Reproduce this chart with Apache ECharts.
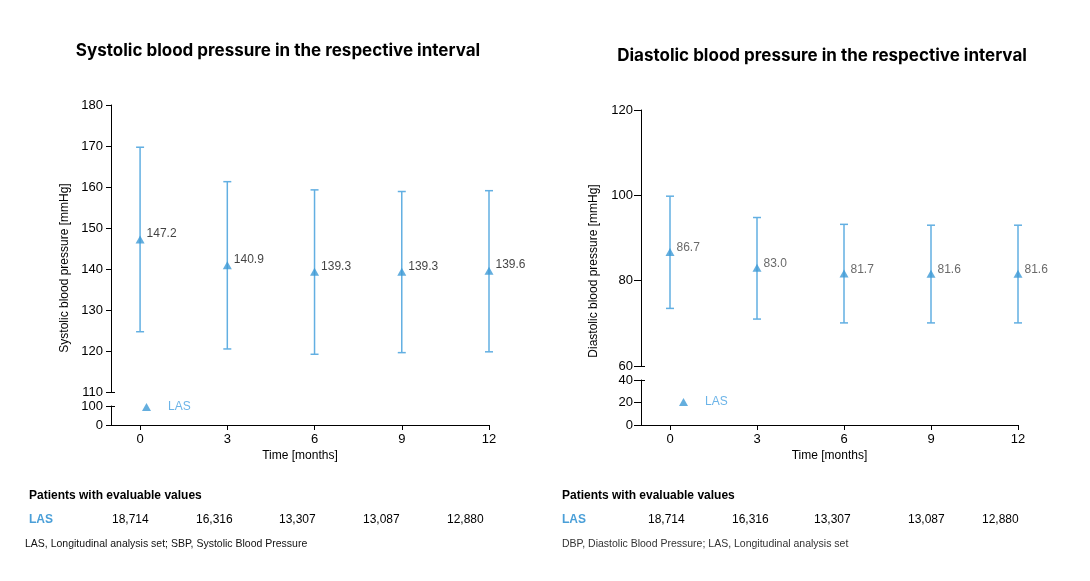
<!DOCTYPE html>
<html>
<head>
<meta charset="utf-8">
<script src="https://cdn.jsdelivr.net/npm/echarts@6/dist/echarts.min.js"></script>
<style>
html,body{margin:0;padding:0;background:#fff;}
#c{width:1090px;height:581px;}
</style>
</head>
<body>
<div id="c"></div>
<script>
// ---- data ----
const months = [0, 3, 6, 9, 12];
const sbpMean = [147.2, 140.9, 139.3, 139.3, 139.6];
const sbpLow  = [124.7, 120.5, 119.2, 119.6, 119.8];
const sbpHigh = [169.7, 161.3, 159.3, 158.9, 159.1];
const dbpMean = [86.7, 83.0, 81.7, 81.6, 81.6];
const dbpLow  = [73.5, 71.0, 70.1, 70.1, 70.1];
const dbpHigh = [99.8, 94.8, 93.2, 93.0, 93.0];
const nLAS = [18714, 16316, 13307, 13087, 12880];
const sbpTicksUpper = [110, 120, 130, 140, 150, 160, 170, 180];
const sbpTicksLower = [0, 100];
const dbpTicksUpper = [60, 80, 100, 120];
const dbpTicksLower = [0, 20, 40];
const seriesName = 'LAS';

// ---- styles ----
const FONT = 'Liberation Sans, Arial, sans-serif';
const TRI = '#3d9ad6';
const BAR = '#62afe2';
const LEG = '#6cb4e8';

const chart = echarts.init(document.getElementById('c'));

function errBar(xi, yi, mean, lo, hi) {
  return {
    type: 'custom', xAxisIndex: xi, yAxisIndex: yi, z: 2, silent: true,
    data: months.map((m, i) => [m, lo[i], hi[i]]),
    encode: {x: 0, y: [1, 2]},
    renderItem(params, api) {
      const x = api.value(0);
      const pHi = api.coord([x, api.value(2)]);
      const pLo = api.coord([x, api.value(1)]);
      const w = 4;
      const st = {stroke: BAR, lineWidth: 1.5};
      return {type: 'group', children: [
        {type: 'line', shape: {x1: pHi[0], y1: pHi[1], x2: pLo[0], y2: pLo[1]}, style: st},
        {type: 'line', shape: {x1: pHi[0] - w, y1: pHi[1], x2: pHi[0] + w, y2: pHi[1]}, style: st},
        {type: 'line', shape: {x1: pLo[0] - w, y1: pLo[1], x2: pLo[0] + w, y2: pLo[1]}, style: st}
      ]};
    }
  };
}
function points(xi, yi, mean, labColor, dy) {
  return {
    type: 'scatter', name: seriesName, xAxisIndex: xi, yAxisIndex: yi, z: 3,
    symbol: 'triangle', symbolSize: [9, 8],
    itemStyle: {color: TRI},
    data: months.map((m, i) => [m, mean[i]]),
    label: {show: true, position: 'right', distance: 2, offset: [0, dy],
      color: labColor, fontFamily: FONT, fontSize: 12,
      formatter: p => p.value[1].toFixed(1)}
  };
}
function xAx(grid, show) {
  return {
    type: 'value', gridIndex: grid, min: -1, max: 12, show: show,
    splitLine: {show: false},
    axisLine: {show: true, onZero: false, lineStyle: {color: '#000', width: 1}},
    axisTick: {show: true, length: 5, customValues: months, lineStyle: {color: '#000'}},
    axisLabel: {customValues: months, color: '#000', fontFamily: FONT, fontSize: 13, margin: 8},
    name: 'Time [months]', nameLocation: 'middle', nameGap: 25,
    nameTextStyle: {color: '#000', fontFamily: FONT, fontSize: 12}
  };
}
function yAx(grid, ticks, tickLen) {
  return {
    type: 'value', gridIndex: grid, position: 'left',
    min: ticks[0], max: ticks[ticks.length - 1],
    splitLine: {show: false},
    axisLine: {show: true, onZero: false, lineStyle: {color: '#000', width: 1}},
    axisTick: {show: true, length: tickLen, customValues: ticks, lineStyle: {color: '#000'}},
    axisLabel: {customValues: ticks, color: '#000', fontFamily: FONT, fontSize: 13, margin: 8}
  };
}
function brk(grid, ticks, at) {
  return {
    type: 'value', gridIndex: grid, position: 'left',
    min: ticks[0], max: ticks[ticks.length - 1],
    splitLine: {show: false},
    axisLine: {show: false, onZero: false},
    axisTick: {show: true, inside: true, length: 4, customValues: [at], lineStyle: {color: '#000'}},
    axisLabel: {show: false}
  };
}
function txt(x, y, text, opt) {
  return Object.assign({type: 'text', x: x, y: y, silent: true,
    style: Object.assign({text: text, fill: '#000', font: '12px ' + FONT,
      textAlign: 'left', textVerticalAlign: 'middle'}, opt || {})});
}

const fmt = n => n.toLocaleString('en-US');
const leftCols = [112, 196, 279, 363, 447];
const rightCols = [648, 732, 814, 908, 982];

const graphics = [
  txt(278, 51, 'Systolic blood pressure in the respective interval', {font: 'bold 17px Inter, sans-serif', textAlign: 'center'}),
  txt(822, 56, 'Diastolic blood pressure in the respective interval', {font: 'bold 17px Inter, sans-serif', textAlign: 'center'}),
  Object.assign(txt(65, 268, 'Systolic blood pressure [mmHg]', {textAlign: 'center'}), {rotation: Math.PI / 2}),
  Object.assign(txt(594, 271, 'Diastolic blood pressure [mmHg]', {textAlign: 'center'}), {rotation: Math.PI / 2}),
  txt(29, 496, 'Patients with evaluable values', {font: 'bold 12px ' + FONT}),
  txt(562, 496, 'Patients with evaluable values', {font: 'bold 12px ' + FONT}),
  txt(29, 520, seriesName, {font: 'bold 12px ' + FONT, fill: '#4a9fd8'}),
  txt(562, 520, seriesName, {font: 'bold 12px ' + FONT, fill: '#4a9fd8'}),
  txt(25, 544, 'LAS, Longitudinal analysis set; SBP, Systolic Blood Pressure', {font: '10.5px ' + FONT, fill: '#111'}),
  txt(562, 544, 'DBP, Diastolic Blood Pressure; LAS, Longitudinal analysis set', {font: '10.5px ' + FONT, fill: '#333'})
];
nLAS.forEach((n, i) => {
  graphics.push(txt(leftCols[i], 520, fmt(n)));
  graphics.push(txt(rightCols[i], 520, fmt(n)));
});

chart.setOption({
  backgroundColor: '#fff',
  animation: false,
  grid: [
    {left: 111, top: 105, width: 378, height: 287},
    {left: 111, top: 406, width: 378, height: 19},
    {left: 641, top: 110, width: 377, height: 256},
    {left: 641, top: 380, width: 377, height: 45}
  ],
  xAxis: [xAx(0, false), xAx(1, true), xAx(2, false), xAx(3, true)],
  yAxis: [
    yAx(0, sbpTicksUpper, 5), yAx(1, sbpTicksLower, 5),
    yAx(2, dbpTicksUpper, 7), yAx(3, dbpTicksLower, 7),
    brk(0, sbpTicksUpper, 110), brk(1, sbpTicksLower, 100),
    brk(2, dbpTicksUpper, 60), brk(3, dbpTicksLower, 40)
  ],
  legend: [
    {left: 137, top: 396, icon: 'triangle', itemWidth: 9, itemHeight: 8, data: [seriesName],
      textStyle: {color: LEG, fontFamily: FONT, fontSize: 12, padding: [0, 0, 0, 12]}},
    {left: 674, top: 391, icon: 'triangle', itemWidth: 9, itemHeight: 8, data: [seriesName],
      textStyle: {color: LEG, fontFamily: FONT, fontSize: 12, padding: [0, 0, 0, 12]}}
  ],
  series: [
    errBar(0, 0, sbpMean, sbpLow, sbpHigh),
    points(0, 0, sbpMean, '#111', -5.5),
    errBar(2, 2, dbpMean, dbpLow, dbpHigh),
    points(2, 2, dbpMean, '#444', -4)
  ],
  graphic: graphics
});
</script>
</body>
</html>
